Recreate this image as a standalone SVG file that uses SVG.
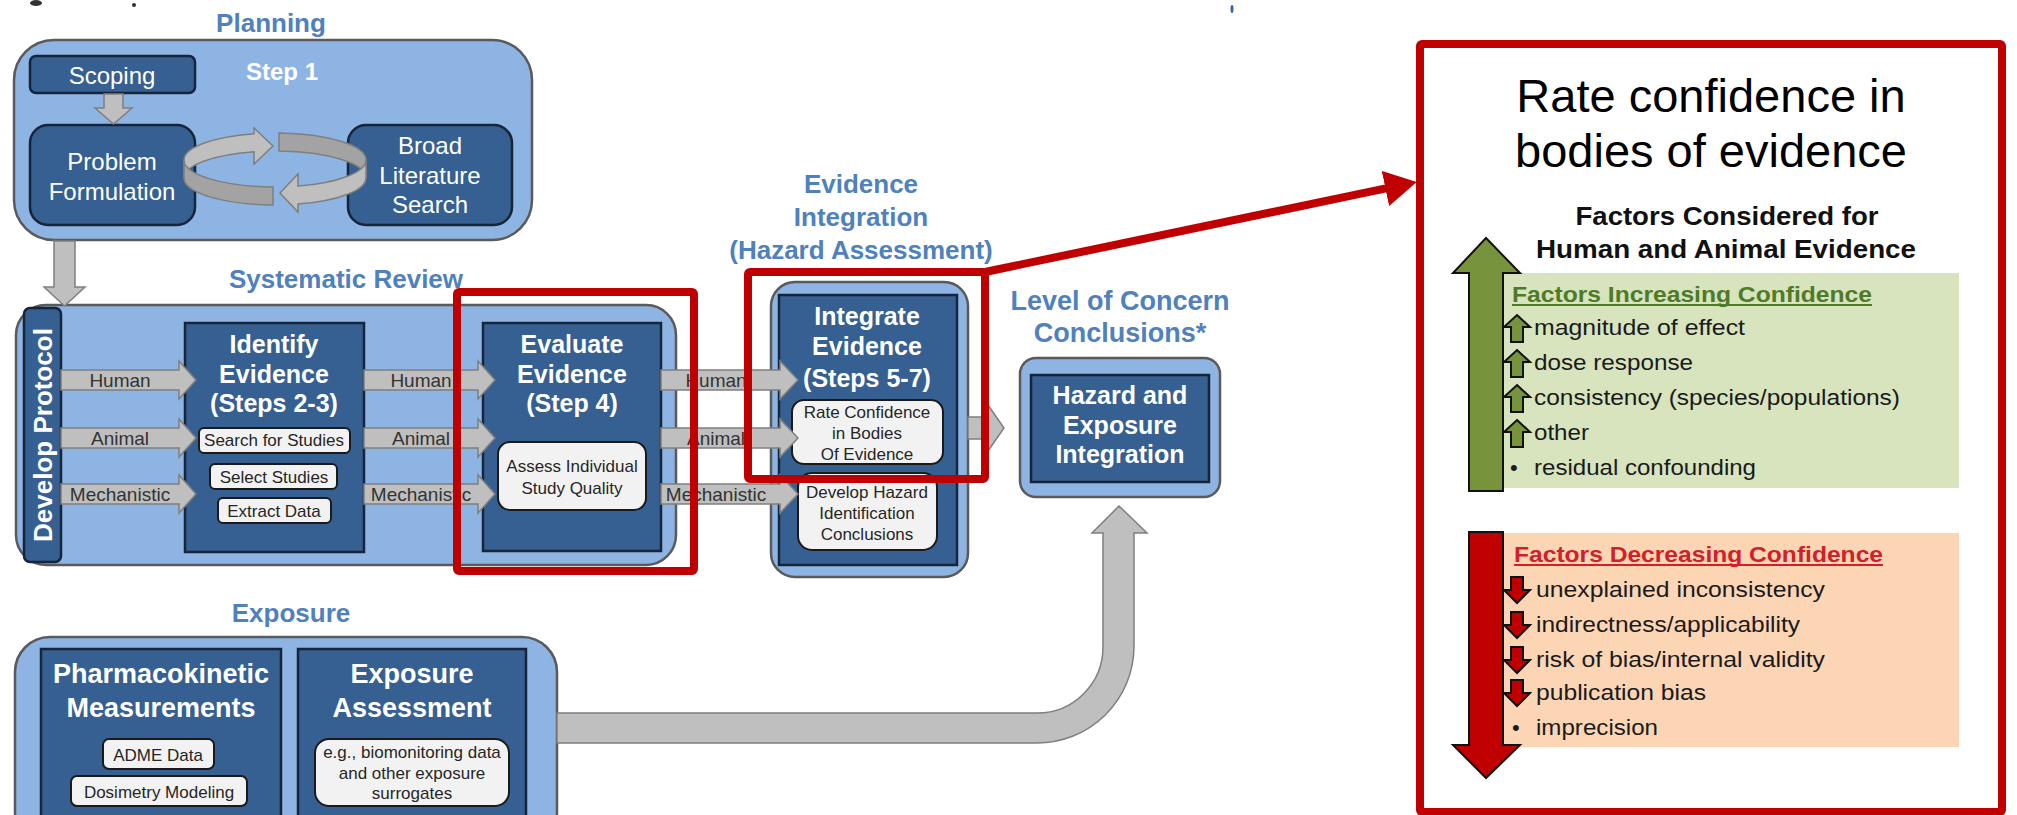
<svg xmlns="http://www.w3.org/2000/svg" width="2017" height="815" viewBox="0 0 2017 815">
<style>
text{font-family:"Liberation Sans",Arial,sans-serif}
.lb{fill:#8eb4e3;stroke:#5a5a5a;stroke-width:2.5}
.db{fill:#366092;stroke:#17253a;stroke-width:2.5}
.wb{fill:#f2f2f2;stroke:#1a1a1a;stroke-width:2}
.ga{fill:#bfbfbf;stroke:#7f7f7f;stroke-width:1.5}
.gd{fill:#a3a3a3;stroke:#7f7f7f;stroke-width:1.5}
.ttl{font-weight:bold;fill:#4f81bd;font-size:26px;text-anchor:middle}
.wt{font-weight:bold;fill:#fff;font-size:25px;text-anchor:middle}
.wr{fill:#fff;font-size:24px;text-anchor:middle}
.sm{font-size:17px;fill:#262626;text-anchor:middle}
.lab{font-size:19px;fill:#333;text-anchor:middle}
.hl{fill:none;stroke:#c00000;stroke-width:8}
.ft{font-size:22px;fill:#1a1a1a}
.ua{fill:#77933c;stroke:#111;stroke-width:2}
.da{fill:#c00000;stroke:#111;stroke-width:2}
</style>
<defs>
<marker id="redHead" markerUnits="userSpaceOnUse" markerWidth="32" markerHeight="36" viewBox="0 0 32 36" refX="20" refY="18" orient="auto">
<path d="M0,0 L32,18 L0,36 Z" fill="#c00000"/>
</marker>
<path id="upIcon" d="M0,-20 L13,-8 H6 V7 H-6 V-8 H-13 Z"/>
<path id="downIcon" d="M-6,-20 H6 V-7 H13 L0,6 L-13,-7 H-6 Z"/>
</defs>
<rect width="2017" height="815" fill="#fff"/>
<ellipse cx="36" cy="3" rx="6" ry="3" fill="#333"/>
<circle cx="134" cy="5" r="2" fill="#333"/>
<ellipse cx="1232" cy="9" rx="1.5" ry="4" fill="#3a5fb0"/>

<g id="planning">
<text class="ttl" x="271" y="32">Planning</text>
<rect class="lb" x="14" y="40" width="518" height="200" rx="40"/>
<text x="282" y="80" class="wt" style="font-size:24px">Step 1</text>
</g>
<g id="scoping">
<rect class="db" x="30" y="56" width="165" height="37" rx="6"/>
<text class="wr" x="112" y="84">Scoping</text>
</g>
<g id="problem-formulation">
<rect class="db" x="30" y="125" width="165" height="100" rx="18"/>
<text class="wr" x="112" y="170">Problem</text>
<text class="wr" x="112" y="200">Formulation</text>
</g>
<g id="broad-literature-search">
<rect class="db" x="348" y="125" width="164" height="100" rx="18"/>
<text class="wr" x="430" y="154">Broad</text>
<text class="wr" x="430" y="184">Literature</text>
<text class="wr" x="430" y="213">Search</text>
</g>

<g id="systematic-review">
<text class="ttl" x="346" y="288">Systematic Review</text>
<rect class="lb" x="16" y="305" width="660" height="260" rx="30"/>
</g>
<g id="develop-protocol">
<rect class="db" x="24" y="308" width="37" height="254" rx="6"/>
<text class="wt" style="font-size:26px" transform="translate(52,435) rotate(-90)">Develop Protocol</text>
</g>
<g id="identify-evidence">
<rect class="db" x="185" y="323" width="179" height="229"/>
<text class="wt" x="274" y="353">Identify</text>
<text class="wt" x="274" y="383">Evidence</text>
<text class="wt" x="274" y="412">(Steps 2-3)</text>
<rect class="wb" x="199" y="428" width="151" height="25" rx="5"/>
<text class="sm" x="274" y="446">Search for Studies</text>
<rect class="wb" x="210" y="464" width="127" height="25" rx="5"/>
<text class="sm" x="274" y="483">Select Studies</text>
<rect class="wb" x="218" y="498" width="113" height="25" rx="5"/>
<text class="sm" x="274" y="517">Extract Data</text>
</g>
<g id="evaluate-evidence">
<rect class="db" x="483" y="323" width="178" height="228"/>
<text class="wt" x="572" y="353">Evaluate</text>
<text class="wt" x="572" y="383">Evidence</text>
<text class="wt" x="572" y="412">(Step 4)</text>
<rect class="wb" x="498" y="442" width="148" height="68" rx="12"/>
<text class="sm" x="572" y="472">Assess Individual</text>
<text class="sm" x="572" y="494">Study Quality</text>
</g>

<g id="evidence-integration">
<text class="ttl" x="861" y="193">Evidence</text>
<text class="ttl" x="861" y="226">Integration</text>
<text class="ttl" x="861" y="259">(Hazard Assessment)</text>
<rect class="lb" x="771" y="282" width="197" height="295" rx="24"/>
<rect class="db" x="779" y="295" width="178" height="270"/>
<text class="wt" x="867" y="325">Integrate</text>
<text class="wt" x="867" y="355">Evidence</text>
<text class="wt" x="867" y="387">(Steps 5-7)</text>
<rect class="wb" x="792" y="400" width="151" height="64" rx="12"/>
<text class="sm" x="867" y="418">Rate Confidence</text>
<text class="sm" x="867" y="439">in Bodies</text>
<text class="sm" x="867" y="460">Of Evidence</text>
<rect class="wb" x="798" y="473" width="139" height="77" rx="14"/>
<text class="sm" x="867" y="498">Develop Hazard</text>
<text class="sm" x="867" y="519">Identification</text>
<text class="sm" x="867" y="540">Conclusions</text>
</g>

<g id="level-of-concern">
<text class="ttl" style="font-size:27px" x="1120" y="310">Level of Concern</text>
<text class="ttl" style="font-size:27px" x="1120" y="342">Conclusions*</text>
<rect class="lb" x="1020" y="358" width="200" height="139" rx="16"/>
<rect class="db" x="1031" y="375" width="178" height="107"/>
<text class="wt" x="1120" y="404">Hazard and</text>
<text class="wt" x="1120" y="434">Exposure</text>
<text class="wt" x="1120" y="463">Integration</text>
</g>

<g id="exposure">
<text class="ttl" x="291" y="622">Exposure</text>
<rect class="lb" x="15" y="637" width="542" height="210" rx="35"/>
</g>
<g id="pharmacokinetic">
<rect class="db" x="41" y="649" width="240" height="180"/>
<text class="wt" style="font-size:27px" x="161" y="683">Pharmacokinetic</text>
<text class="wt" style="font-size:27px" x="161" y="717">Measurements</text>
<rect class="wb" x="103" y="739" width="111" height="30" rx="6"/>
<text class="sm" x="158" y="761">ADME Data</text>
<rect class="wb" x="71" y="776" width="176" height="30" rx="6"/>
<text class="sm" x="159" y="798">Dosimetry Modeling</text>
</g>
<g id="exposure-assessment">
<rect class="db" x="298" y="649" width="228" height="180"/>
<text class="wt" style="font-size:27px" x="412" y="683">Exposure</text>
<text class="wt" style="font-size:27px" x="412" y="717">Assessment</text>
<rect class="wb" x="315" y="739" width="194" height="67" rx="14"/>
<text class="sm" x="412" y="758">e.g., biomonitoring data</text>
<text class="sm" x="412" y="779">and other exposure</text>
<text class="sm" x="412" y="799">surrogates</text>
</g>

<g id="rate-confidence-panel">
<rect x="1486" y="273" width="473" height="215" fill="#d7e4bd"/>
<rect x="1486" y="533" width="473" height="214" fill="#fcd5b5"/>
<text x="1711" y="112" text-anchor="middle" style="font-size:47px" fill="#000">Rate confidence in</text>
<text x="1711" y="167" text-anchor="middle" style="font-size:47px" fill="#000">bodies of evidence</text>
<text x="1727" y="225" text-anchor="middle" font-weight="bold" style="font-size:25px" fill="#111" textLength="303" lengthAdjust="spacingAndGlyphs">Factors Considered for</text>
<text x="1726" y="258" text-anchor="middle" font-weight="bold" style="font-size:25px" fill="#111" textLength="380" lengthAdjust="spacingAndGlyphs">Human and Animal Evidence</text>
<path class="ua" d="M1486,238 L1520,273 H1503 V491 H1469 V273 H1453 Z"/>
<path class="da" d="M1469,532 H1503 V745 H1520 L1486,778 L1453,745 H1469 Z"/>
<text x="1512" y="302" font-weight="bold" style="font-size:22px" fill="#4f7a28" textLength="360" lengthAdjust="spacingAndGlyphs">Factors Increasing Confidence</text>
<rect x="1512" y="304" width="360" height="2" fill="#4f7a28"/>
<use href="#upIcon" class="ua" x="1517" y="335"/>
<text class="ft" x="1534" y="335" textLength="211" lengthAdjust="spacingAndGlyphs">magnitude of effect</text>
<use href="#upIcon" class="ua" x="1517" y="370"/>
<text class="ft" x="1534" y="370" textLength="159" lengthAdjust="spacingAndGlyphs">dose response</text>
<use href="#upIcon" class="ua" x="1517" y="405"/>
<text class="ft" x="1534" y="405" textLength="366" lengthAdjust="spacingAndGlyphs">consistency (species/populations)</text>
<use href="#upIcon" class="ua" x="1517" y="440"/>
<text class="ft" x="1534" y="440" textLength="55" lengthAdjust="spacingAndGlyphs">other</text>
<text class="ft" x="1510" y="475">•</text>
<text class="ft" x="1534" y="475" textLength="222" lengthAdjust="spacingAndGlyphs">residual confounding</text>
<text x="1514" y="562" font-weight="bold" style="font-size:22px" fill="#d0202a" textLength="369" lengthAdjust="spacingAndGlyphs">Factors Decreasing Confidence</text>
<rect x="1514" y="564" width="369" height="2" fill="#d0202a"/>
<use href="#downIcon" class="da" x="1517" y="597"/>
<text class="ft" x="1536" y="597" textLength="289" lengthAdjust="spacingAndGlyphs">unexplained inconsistency</text>
<use href="#downIcon" class="da" x="1517" y="632"/>
<text class="ft" x="1536" y="632" textLength="264" lengthAdjust="spacingAndGlyphs">indirectness/applicability</text>
<use href="#downIcon" class="da" x="1517" y="667"/>
<text class="ft" x="1536" y="667" textLength="289" lengthAdjust="spacingAndGlyphs">risk of bias/internal validity</text>
<use href="#downIcon" class="da" x="1517" y="700"/>
<text class="ft" x="1536" y="700" textLength="170" lengthAdjust="spacingAndGlyphs">publication bias</text>
<text class="ft" x="1512" y="735">•</text>
<text class="ft" x="1536" y="735" textLength="122" lengthAdjust="spacingAndGlyphs">imprecision</text>
</g>

<g id="connectors">
<path class="ga" d="M104,94 H123 V108 H132 L113.5,124 L95,108 H104 Z"/>
<path class="ga" d="M184,160 A91,27 0 0 1 254,133.7 V128 L273,146 L254,164 V151.7 A91,27 0 0 0 184,178 Z"/>
<path class="gd" d="M279,133 A91,27 0 0 1 366,160 L366,178 A91,27 0 0 0 279,151 Z"/>
<path class="ga" d="M366,160 A91,27 0 0 1 298,186.1 V174 L280,193 L298,212 V204.1 A91,27 0 0 0 366,178 Z"/>
<path class="gd" d="M184,160 A91,27 0 0 0 273,187 L273,205 A91,27 0 0 1 184,178 Z"/>
<path class="ga" d="M54,241 H75 V287 H85 L64.5,306 L44,287 H54 Z"/>
<path class="ga" d="M61,370 H179 V361 L196,380 L179,399 V390 H61 Z"/>
<path class="ga" d="M61,428 H179 V419 L196,438 L179,457 V448 H61 Z"/>
<path class="ga" d="M61,484 H179 V475 L196,494 L179,513 V504 H61 Z"/>
<text class="lab" x="120" y="387">Human</text>
<text class="lab" x="120" y="445">Animal</text>
<text class="lab" x="120" y="501">Mechanistic</text>
<path class="ga" d="M364,370 H478 V361 L495,380 L478,399 V390 H364 Z"/>
<path class="ga" d="M364,428 H478 V419 L495,438 L478,457 V448 H364 Z"/>
<path class="ga" d="M364,484 H478 V475 L495,494 L478,513 V504 H364 Z"/>
<text class="lab" x="421" y="387">Human</text>
<text class="lab" x="421" y="445">Animal</text>
<text class="lab" x="421" y="501">Mechanistic</text>
<path class="ga" d="M661,370 H780 V361 L798,380 L780,399 V390 H661 Z"/>
<path class="ga" d="M661,428 H780 V419 L798,438 L780,457 V448 H661 Z"/>
<path class="ga" d="M661,484 H780 V475 L798,494 L780,513 V504 H661 Z"/>
<text class="lab" x="716" y="387">Human</text>
<text class="lab" x="716" y="445">Animal</text>
<text class="lab" x="716" y="501">Mechanistic</text>
<path class="ga" d="M968,417 H988 V405 L1004,428 L988,451 V439 H968 Z"/>
<path class="ga" d="M557,713 H1037 A66,66 0 0 0 1103,647 V533 H1092 L1119,506 L1147,533 H1134 V647 A97,97 0 0 1 1037,743 H557 Z"/>
<line x1="985" y1="272" x2="1405" y2="184.4" stroke="#c00000" stroke-width="8" marker-end="url(#redHead)"/>
</g>

<g id="highlights">
<rect class="hl" x="457" y="292" width="237" height="279" rx="2"/>
<rect class="hl" x="748" y="272" width="237" height="207" rx="2"/>
<rect class="hl" x="1420" y="44" width="582" height="768" rx="2"/>
</g>
</svg>
